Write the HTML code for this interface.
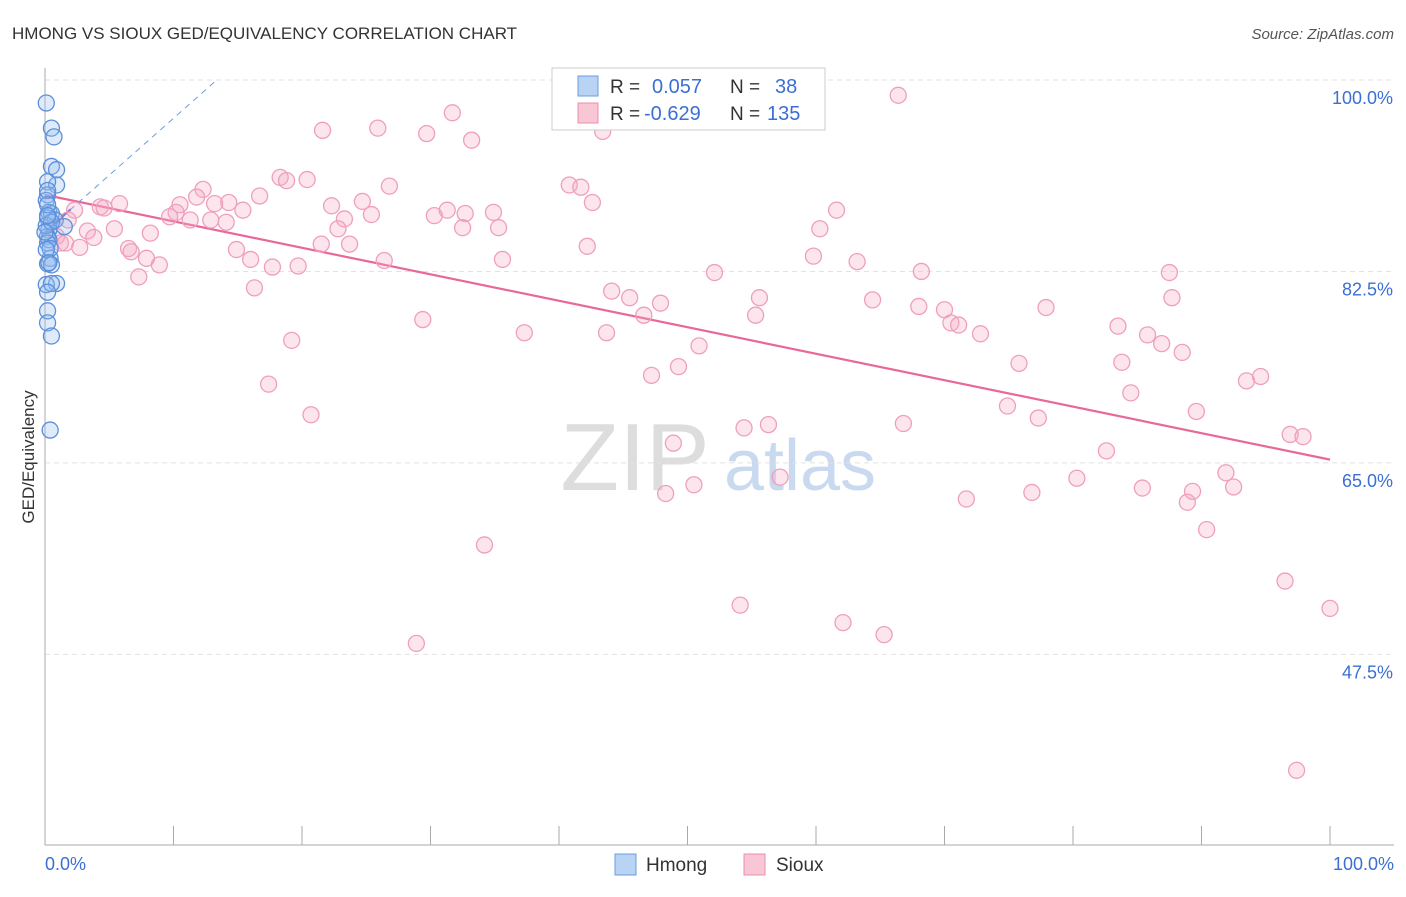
<!DOCTYPE html>
<html><head><meta charset="utf-8"><style>
body{margin:0;background:#fff;font-family:"Liberation Sans",sans-serif;}
svg text{font-family:"Liberation Sans",sans-serif;}
</style></head><body>
<svg id="chart" width="1406" height="892" viewBox="0 0 1406 892" xmlns="http://www.w3.org/2000/svg">
<text x="12" y="39" font-size="17" fill="#333">HMONG VS SIOUX GED/EQUIVALENCY CORRELATION CHART</text>
<text x="1394" y="39" font-size="15" fill="#555" text-anchor="end" font-style="italic">Source: ZipAtlas.com</text>
<text x="0" y="0" font-size="17" fill="#333" text-anchor="middle" transform="translate(34,457) rotate(-90)">GED/Equivalency</text>
<g><text x="635" y="490" font-size="96" fill="#ddd" font-family="Liberation Serif" text-anchor="middle">ZIP</text><text x="800" y="490" font-size="72" fill="#c9d9ef" text-anchor="middle">atlas</text></g>
<g id="grid"></g><g id="axes"></g><g id="lines"></g><g id="points"></g>
<g>
<rect x="552" y="68" width="273" height="62" fill="#fff" stroke="#ccc"/>
<rect x="578" y="76" width="20" height="20" fill="#b9d3f5" stroke="#6a9ee0"/>
<text x="610" y="93" font-size="19" fill="#333">R =</text><text x="652" y="93" font-size="20" fill="#3b6fd4">0.057</text>
<text x="730" y="93" font-size="19" fill="#333">N =</text><text x="775" y="93" font-size="20" fill="#3b6fd4">38</text>
<rect x="578" y="103" width="20" height="20" fill="#f9c6d6" stroke="#ec8fb0"/>
<text x="610" y="120" font-size="19" fill="#333">R =</text><text x="644" y="120" font-size="20" fill="#3b6fd4">-0.629</text>
<text x="730" y="120" font-size="19" fill="#333">N =</text><text x="767" y="120" font-size="20" fill="#3b6fd4">135</text>
</g>
<g>
<rect x="615" y="854" width="21" height="21" fill="#b9d3f5" stroke="#6a9ee0"/>
<text x="646" y="871" font-size="19" fill="#333">Hmong</text>
<rect x="744" y="854" width="21" height="21" fill="#f9c6d6" stroke="#ec8fb0"/>
<text x="776" y="871" font-size="19" fill="#333">Sioux</text>
</g>
</svg>
<script>
const yTicks=[100,82.5,65,47.5];
const yTickLabels=["100.0%","82.5%","65.0%","47.5%"];
const xTicks=[0,10,20,30,40,50,60,70,80,90,100];
const siouxX=[66.4,31.7,21.6,25.9,29.7,33.2,43.4,18.3,18.8,20.4,26.8,40.8,41.7,12.3,11.8,16.7,24.7,42.6,14.3,10.5,13.2,5.8,4.3,4.6,2.3,22.3,15.4,10.2,9.7,11.3,12.9,14.1,25.4,23.3,30.3,31.3,32.7,34.9,61.6,32.5,35.3,22.8,1.8,3.3,5.4,8.2,3.8,0.9,1.2,1.6,2.7,6.5,6.7,14.9,21.5,23.7,42.2,60.3,7.9,8.9,7.3,16.0,17.7,19.7,26.4,35.6,59.8,63.2,52.1,68.2,87.5,16.3,44.1,45.5,47.9,55.6,64.4,87.7,46.6,55.3,68.0,70.0,70.5,71.1,72.8,77.9,83.5,85.8,86.9,88.5,29.4,37.3,43.7,50.9,19.2,75.8,83.8,49.3,47.2,17.4,93.5,94.6,84.5,74.9,89.6,20.7,66.8,77.3,54.4,56.3,48.9,82.6,96.9,97.9,91.9,80.3,57.2,50.5,48.3,71.7,76.8,85.4,89.3,92.5,88.9,90.4,34.2,96.5,100,54.1,62.1,65.3,28.9,97.4];
const siouxY=[98.6,97.0,95.4,95.6,95.1,94.5,95.3,91.1,90.8,90.9,90.3,90.4,90.2,90.0,89.3,89.4,88.9,88.8,88.8,88.6,88.7,88.7,88.4,88.3,88.1,88.5,88.1,87.9,87.5,87.2,87.2,87.0,87.7,87.3,87.6,88.1,87.8,87.9,88.1,86.5,86.5,86.4,87.2,86.2,86.4,86.0,85.6,85.7,85.1,85.1,84.7,84.6,84.3,84.5,85.0,85.0,84.8,86.4,83.7,83.1,82.0,83.6,82.9,83.0,83.5,83.6,83.9,83.4,82.4,82.5,82.4,81.0,80.7,80.1,79.6,80.1,79.9,80.1,78.5,78.5,79.3,79.0,77.8,77.6,76.8,79.2,77.5,76.7,75.9,75.1,78.1,76.9,76.9,75.7,76.2,74.1,74.2,73.8,73.0,72.2,72.5,72.9,71.4,70.2,69.7,69.4,68.6,69.1,68.2,68.5,66.8,66.1,67.6,67.4,64.1,63.6,63.7,63.0,62.2,61.7,62.3,62.7,62.4,62.8,61.4,58.9,57.5,54.2,51.7,52.0,50.4,49.3,48.5,36.9];
const hmongX=[0.1,0.5,0.7,0.5,0.9,0.9,0.2,0.2,0.1,0.3,0.5,0.2,0.8,1.5,0.3,0.2,0.3,0.2,0.4,0.2,0.5,0.9,0.1,0.5,0.2,0.2,0.2,0.5,0.4,0.2,0.2,0.1,0.4,0.1,0.5,0.3,0.2,0];
const hmongY=[97.9,95.6,94.8,92.1,91.8,90.4,90.7,89.5,89.0,87.9,87.8,87.4,87.2,86.6,86.3,85.7,85.4,85.1,83.7,83.2,83.1,81.4,81.3,81.4,80.6,78.9,77.8,76.6,68.0,89.9,88.6,86.7,84.6,84.5,87.0,83.3,87.6,86.1];
const siouxTrend=[89.5,65.3];
const hmongTrend=[86.1,1.04];
const NS="http://www.w3.org/2000/svg";
const xS=v=>45+v*12.85, yS=v=>80+(100-v)*10.94;
function mk(t,a,p){const e=document.createElementNS(NS,t);for(const k in a)e.setAttribute(k,a[k]);p.appendChild(e);return e;}
const grid=document.getElementById('grid'),axes=document.getElementById('axes'),lines=document.getElementById('lines'),pts=document.getElementById('points');
yTicks.forEach((v,i)=>{
 const l=mk('line',{x1:45,x2:1394,y1:yS(v),y2:yS(v),stroke:'#e2e2e2','stroke-dasharray':'5,4'},grid);
 
 
 const t=mk('text',{x:1393,y:yS(v)+24,'font-size':18,fill:'#3b6fd4','text-anchor':'end'},grid);
 t.textContent=yTickLabels[i];
 
 
});
const ya=mk('line',{x1:45,x2:45,y1:68,y2:845,stroke:'#aaa'},axes);


const xa=mk('line',{x1:45,x2:1394,y1:845,y2:845,stroke:'#aaa'},axes);


xTicks.forEach(v=>{const t=mk('line',{x1:xS(v),x2:xS(v),y1:826,y2:845,stroke:'#aaa'},axes);
 
 });
const xl0=mk('text',{x:45,y:870,'font-size':18,fill:'#3b6fd4'},axes);xl0.textContent='0.0%';


const xl1=mk('text',{x:1394,y:870,'font-size':18,fill:'#3b6fd4','text-anchor':'end'},axes);xl1.textContent='100.0%';


siouxX.forEach((x,i)=>{const c=mk('circle',{cx:xS(x),cy:yS(siouxY[i]),r:8,fill:'rgba(244,170,196,0.3)',stroke:'#ef9fbd','stroke-width':1.3},pts);
 
 });
hmongX.forEach((x,i)=>{const c=mk('circle',{cx:xS(x),cy:yS(hmongY[i]),r:8,fill:'rgba(150,190,240,0.3)',stroke:'#5b8fdc','stroke-width':1.3},pts);
 
 });
const st=mk('line',{x1:xS(0),y1:yS(siouxTrend[0]),x2:xS(100),y2:yS(siouxTrend[1]),stroke:'#e8689a','stroke-width':2.2},lines);


const hd=mk('line',{x1:xS(0),y1:yS(hmongTrend[0]),x2:xS(13.3),y2:yS(hmongTrend[0]+hmongTrend[1]*13.3),stroke:'#6a9ee0','stroke-width':1,'stroke-dasharray':'6,5'},lines);


const hs=mk('line',{x1:xS(0),y1:yS(hmongTrend[0]),x2:xS(2),y2:yS(hmongTrend[0]+hmongTrend[1]*2),stroke:'#3b6fd4','stroke-width':2},lines);


</script>
</body></html>
